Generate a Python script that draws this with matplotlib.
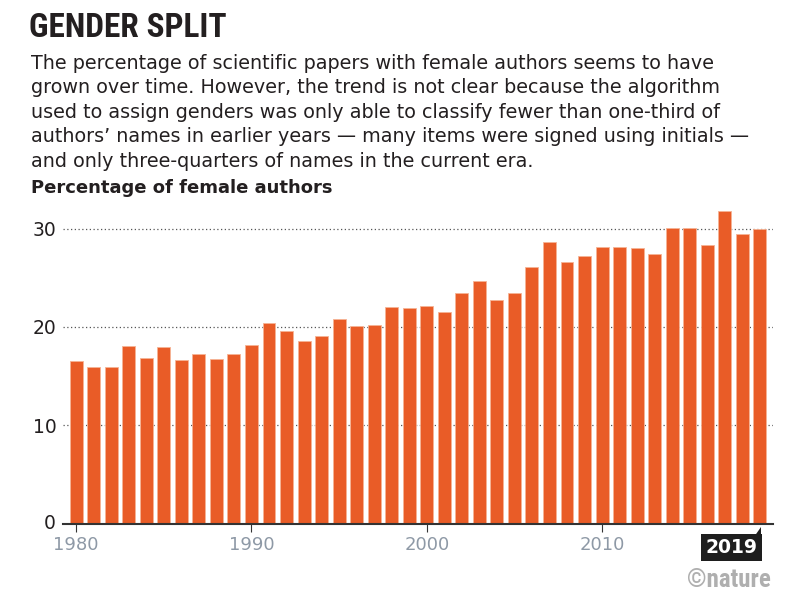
import matplotlib.pyplot as plt
import matplotlib.patches as mpatches
import numpy as np

years = list(range(1980, 2020))
female_pct = [16.5, 15.9, 15.9, 18.1, 16.8, 18.0, 16.6, 17.3, 16.7, 17.3,
              18.2, 20.4, 19.6, 18.6, 19.1, 20.8, 20.1, 20.2, 22.0, 21.9,
              22.1, 21.5, 23.5, 24.7, 22.7, 23.5, 26.1, 28.7, 26.6, 27.2,
              28.1, 28.1, 28.0, 27.4, 30.1, 30.1, 28.3, 31.8, 29.5, 30.0]
y_ticks = [0, 10, 20, 30]
x_ticks = [1980, 1990, 2000, 2010]

TITLE = "GENDER SPLIT"
SUBTITLE = ("The percentage of scientific papers with female authors seems to have\n"
            "grown over time. However, the trend is not clear because the algorithm\n"
            "used to assign genders was only able to classify fewer than one-third of\n"
            "authors\u2019 names in earlier years \u2014 many items were signed using initials \u2014\n"
            "and only three-quarters of names in the current era.")
YLABEL = "Percentage of female authors"

BAR_COLOR = "#E95C27"
TEXT_COLOR = "#231F20"
TICK_GRAY = "#8E99A6"
NARROW = ["DejaVu Sans Condensed", "Liberation Sans Narrow", "Roboto Condensed",
          "Roboto", "DejaVu Sans"]

plt.rcParams["font.family"] = ["DejaVu Sans"]

fig = plt.figure(figsize=(8, 6), dpi=100)
ax = fig.add_axes([0.079, 0.1275, 0.887, 0.524])

ax.bar(years, female_pct, width=0.74, color=BAR_COLOR,
       edgecolor="#F6B395", linewidth=0.6, zorder=3)

ax.set_xlim(1979.26, 2019.74)
ax.set_ylim(0, 32)
ax.set_yticks(y_ticks[1:])
ax.set_yticklabels([str(v) for v in y_ticks[1:]], fontsize=13.5, color=TEXT_COLOR)
ax.tick_params(axis="y", length=0, pad=5)
ax.set_xticks(x_ticks)
ax.set_xticklabels([str(v) for v in x_ticks], fontsize=13, color=TICK_GRAY)
ax.tick_params(axis="x", length=5.8, width=0.8, color="#333333", pad=3, direction="out")

for v in y_ticks[1:]:
    ax.axhline(v, color="#555555", linewidth=0.9, linestyle=(0, (1, 2)), zorder=1)

for s in ["top", "right", "left"]:
    ax.spines[s].set_visible(False)
ax.spines["bottom"].set_linewidth(1.5)
ax.spines["bottom"].set_color("#333333")
ax.spines["bottom"].set_zorder(4)

ax.text(-0.01, 0, "0", transform=ax.get_yaxis_transform(), ha="right", va="center",
        fontsize=13.5, color=TEXT_COLOR)

# highlighted final year label with a small pointer
fig.text(0.947, 0.0875, "2019", ha="right", va="center", fontsize=13.5,
         fontweight="bold", color="white",
         bbox=dict(boxstyle="square,pad=0.22", facecolor="#1E1E1E", edgecolor="none"))
fig.patches.append(mpatches.Polygon([[0.943, 0.105], [0.951, 0.105], [0.951, 0.122]],
                                    closed=True, transform=fig.transFigure,
                                    facecolor="#1E1E1E", edgecolor="none"))

fig.text(0.036, 0.938, TITLE, fontsize=24, fontweight="bold", color=TEXT_COLOR,
         family=NARROW, fontstretch="condensed", va="baseline")
# multi-line baseline anchors the last line
fig.text(0.039, 0.7222, SUBTITLE, fontsize=13.75, color=TEXT_COLOR, va="baseline",
         linespacing=1.36)
fig.text(0.039, 0.678, YLABEL, fontsize=13, fontweight="bold", color=TEXT_COLOR,
         va="baseline")

fig.text(0.963, 0.022, "\u00a9nature", ha="right", va="baseline", fontsize=18,
         fontweight="bold", color="#AFAFAF", family=NARROW, fontstretch="condensed")

plt.savefig("out.png", dpi=100)
